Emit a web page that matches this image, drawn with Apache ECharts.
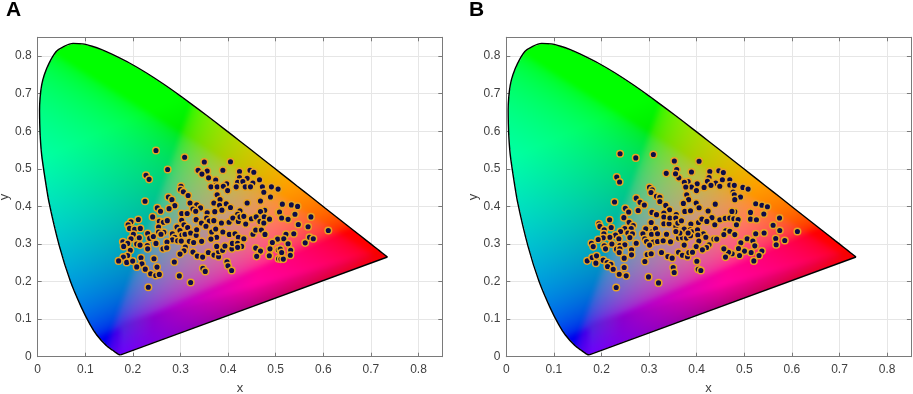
<!DOCTYPE html>
<html><head><meta charset="utf-8">
<style>html,body{margin:0;padding:0;background:#fff}#c{width:913px;height:394px}</style>
<script src="https://cdn.jsdelivr.net/npm/echarts@6/dist/echarts.min.js"></script>
</head><body><div id="c"></div>
<script>
const panelLabels = ['A', 'B'];
const axisNames = ['x', 'y'];
const tickMax = 0.85, tickStep = 0.1;
const spectralLocus = [[.1741,.0050],[.1733,.0048],[.1714,.0051],[.1689,.0069],[.1644,.0109],[.1566,.0177],[.1440,.0297],[.1241,.0578],[.1096,.0868],[.0913,.1327],[.0687,.2007],[.0454,.2950],[.0235,.4127],[.0140,.4860],[.0082,.5384],[.0055,.5820],[.0043,.6200],[.0039,.6548],[.0050,.6880],[.0082,.7220],[.0139,.7502],[.0235,.7800],[.0389,.8120],[.0555,.8260],[.0743,.8338],[.0945,.8325],[.1142,.8262],[.1345,.8172],[.1547,.8059],[.1929,.7816],[.2296,.7543],[.2658,.7243],[.3016,.6923],[.3373,.6589],[.3731,.6245],[.4087,.5896],[.4441,.5547],[.4788,.5202],[.5125,.4866],[.5448,.4544],[.5752,.4242],[.6029,.3965],[.6270,.3725],[.6658,.3340],[.6915,.3083],[.7079,.2920],[.7190,.2809],[.7260,.2740],[.7300,.2700],[.7347,.2653]];
const purpleLine = [[.7347,.2653],[.1741,.0050]];
const pointsA = [[.2485,.5487],[.3087,.5309],[.35,.518],[.405,.519],[.2275,.483],[.234,.472],[.273,.498],[.337,.496],[.356,.494],[.345,.486],[.389,.496],[.424,.493],[.446,.496],[.454,.491],[.359,.476],[.374,.47],[.424,.477],[.44,.475],[.42,.464],[.431,.466],[.452,.462],[.466,.471],[.417,.452],[.436,.452],[.447,.452],[.472,.452],[.491,.452],[.505,.446],[.374,.456],[.364,.452],[.377,.452],[.397,.46],[.39,.4535],[.399,.442],[.301,.4535],[.3,.445],[.306,.439],[.316,.429],[.377,.431],[.475,.4375],[.489,.425],[.2255,.4135],[.2745,.425],[.282,.418],[.32,.409],[.383,.418],[.37,.409],[.396,.407],[.382,.403],[.44,.409],[.468,.4145],[.288,.402],[.334,.404],[.342,.396],[.2513,.396],[.258,.387],[.276,.394],[.326,.393],[.372,.386],[.387,.39],[.405,.397],[.332,.387],[.3025,.381],[.314,.381],[.356,.383],[.425,.388],[.42,.379],[.477,.3895],[.468,.386],[.506,.384],[.2415,.372],[.2114,.365],[.196,.359],[.2555,.36],[.264,.358],[.2723,.362],[.3025,.363],[.333,.3647],[.344,.356],[.355,.369],[.3605,.361],[.37,.362],[.386,.356],[.402,.358],[.41,.369],[.4215,.36],[.425,.372],[.433,.3735],[.437,.353],[.449,.367],[.459,.372],[.467,.36],[.476,.372],[.475,.356],[.487,.366],[.19,.351],[.193,.3415],[.2037,.339],[.2156,.3415],[.201,.3255],[.231,.328],[.254,.345],[.265,.331],[.254,.332],[.259,.326],[.2135,.3166],[.196,.314],[.179,.306],[.189,.3015],[.1806,.2935],[.2352,.315],[.243,.32],[.283,.327],[.288,.318],[.283,.311],[.2926,.345],[.2989,.336],[.3073,.351],[.315,.344],[.303,.324],[.3095,.326],[.3213,.329],[.333,.323],[.334,.338],[.3535,.347],[.3655,.332],[.374,.34],[.389,.332],[.376,.318],[.364,.313],[.4025,.3255],[.4145,.327],[.4215,.318],[.433,.314],[.4522,.326],[.458,.337],[.47,.337],[.4775,.3255],[.492,.304],[.503,.3095],[.3444,.307],[.3185,.307],[.3276,.304],[.294,.3086],[.3017,.3077],[.2716,.305],[.2485,.3015],[.208,.3],[.215,.297],[.2303,.296],[.231,.287],[.2632,.287],[.271,.29],[.3101,.2917],[.3073,.282],[.299,.273],[.3262,.2784],[.3353,.2677],[.3465,.265],[.3585,.2775],[.3703,.2704],[.38,.266],[.38,.28],[.3885,.283],[.376,.2935],[.3934,.2944],[.408,.287],[.409,.3015],[.42,.302],[.4285,.2935],[.42,.291],[.458,.289],[.468,.281],[.46,.267],[.4872,.2686],[.4886,.287],[.5055,.2846],[.506,.2606],[.1946,.283],[.189,.2695],[.18,.265],[.17,.255],[.187,.251],[.1995,.2544],[.217,.263],[.219,.247],[.208,.239],[.226,.233],[.2443,.2606],[.2506,.2384],[.287,.252],[.2373,.2206],[.248,.216],[.2555,.219],[.2975,.215],[.2324,.185],[.3213,.1975],[.347,.235],[.352,.227],[.3976,.2526],[.3997,.242],[.4074,.2295],[.514,.406],[.533,.404],[.546,.4],[.508,.385],[.5405,.379],[.5125,.369],[.526,.3655],[.574,.372],[.5475,.352],[.568,.346],[.6105,.336],[.5216,.326],[.538,.327],[.504,.313],[.517,.314],[.493,.304],[.526,.3006],[.562,.303],[.571,.318],[.579,.314],[.488,.287],[.5097,.2864],[.5314,.283],[.5307,.27],[.5125,.27],[.511,.2597],[.516,.2597],[.4866,.2686],[.5125,.2775]];
const pointsB = [[.239,.54],[.272,.529],[.309,.538],[.353,.521],[.405,.52],[.232,.478],[.238,.465],[.336,.488],[.358,.498],[.3625,.476],[.389,.4915],[.4275,.493],[.4465,.495],[.456,.49],[.382,.466],[.374,.464],[.3555,.487],[.426,.477],[.4225,.467],[.44,.462],[.454,.471],[.4695,.471],[.401,.46],[.389,.4515],[.377,.4515],[.3995,.442],[.4155,.4505],[.43,.456],[.4485,.4535],[.4695,.457],[.479,.456],[.497,.4505],[.508,.446],[.4765,.438],[.479,.431],[.301,.4505],[.3065,.444],[.304,.437],[.3155,.427],[.3225,.424],[.379,.431],[.383,.418],[.372,.408],[.399,.409],[.405,.3965],[.492,.425],[.48,.418],[.439,.406],[.524,.407],[.537,.403],[.5486,.399],[.513,.384],[.541,.3796],[.273,.422],[.281,.4107],[.29,.4036],[.2274,.4116],[.25,.395],[.257,.385],[.277,.389],[.3226,.413],[.335,.4027],[.343,.391],[.331,.382],[.306,.384],[.3156,.378],[.357,.378],[.375,.3867],[.387,.3884],[.424,.3876],[.432,.37],[.48,.386],[.474,.3867],[.247,.37],[.217,.3644],[.258,.358],[.2666,.349],[.1945,.354],[.1966,.3467],[.2204,.344],[.2057,.338],[.205,.327],[.249,.341],[.24,.333],[.2624,.341],[.2554,.329],[.265,.327],[.2596,.317],[.2295,.3235],[.2176,.318],[.2036,.3164],[.193,.312],[.2365,.3138],[.179,.302],[.1826,.293],[.2057,.295],[.2085,.287],[.2218,.3],[.2386,.296],[.249,.298],[.273,.302],[.3044,.3573],[.293,.3404],[.3065,.3333],[.3135,.3413],[.287,.327],[.291,.3138],[.2946,.3067],[.305,.326],[.3177,.327],[.3086,.305],[.3177,.3067],[.301,.297],[.3296,.3084],[.3366,.326],[.331,.3716],[.331,.354],[.342,.354],[.3436,.369],[.356,.369],[.3562,.3467],[.3604,.3556],[.368,.3618],[.3877,.353],[.3863,.338],[.3737,.3396],[.39,.3324],[.4017,.338],[.4038,.3573],[.411,.3662],[.4213,.36],[.438,.351],[.4486,.3644],[.46,.368],[.4696,.369],[.478,.367],[.487,.3653],[.4835,.351],[.461,.335],[.457,.325],[.4696,.334],[.48,.325],[.513,.366],[.5255,.3644],[.5605,.35],[.574,.369],[.5745,.336],[.6116,.3333],[.524,.327],[.5416,.329],[.566,.3147],[.585,.3093],[.567,.2978],[.4927,.303],[.506,.3138],[.518,.3076],[.522,.295],[.537,.281],[.531,.2693],[.5143,.2773],[.5003,.281],[.52,.255],[.4878,.288],[.49,.2693],[.4745,.2738],[.4668,.278],[.457,.287],[.4605,.265],[.436,.313],[.442,.313],[.414,.327],[.4192,.318],[.4024,.3236],[.4045,.3076],[.399,.2933],[.426,.298],[.4206,.2907],[.412,.2844],[.3737,.297],[.3618,.3156],[.37,.3164],[.3786,.3156],[.387,.3218],[.382,.329],[.3646,.329],[.3562,.3333],[.345,.3058],[.326,.2773],[.3394,.2667],[.3485,.2622],[.3618,.278],[.37,.27],[.3807,.2658],[.3835,.2773],[.3912,.278],[.4003,.2542],[.3506,.2373],[.3527,.224],[.4031,.2329],[.4087,.2293],[.296,.272],[.3044,.2738],[.2911,.2533],[.2631,.2844],[.2631,.2711],[.2316,.2862],[.2386,.2871],[.2477,.2622],[.2372,.2773],[.17,.2551],[.1805,.264],[.1896,.2684],[.1882,.2489],[.2036,.2569],[.212,.2507],[.2197,.2462],[.2127,.24],[.2246,.2329],[.2477,.2373],[.2372,.2196],[.2519,.2151],[.2309,.184],[.2988,.2124],[.3198,.1964]];

function inside(x, y) {
  let c = false;
  for (let i = 0, j = spectralLocus.length - 1; i < spectralLocus.length; j = i++) {
    const a = spectralLocus[i], b = spectralLocus[j];
    if ((a[1] > y) !== (b[1] > y) && x < (b[0] - a[0]) * (y - a[1]) / (b[1] - a[1]) + a[0]) c = !c;
  }
  return c;
}
function gam(v) {
  v = Math.max(0, Math.min(1, v));
  return 255 * (v <= 0.0031308 ? 12.92 * v : 1.055 * Math.pow(v, 1 / 2.4) - 0.055);
}
function phys(x, y) {
  const z = 1 - x - y;
  return [gam(3.2406 * x - 1.5372 * y - 0.4986 * z), gam(-0.9689 * x + 1.8758 * y + 0.0415 * z), gam(0.0557 * x - 0.2040 * y + 1.0570 * z)];
}
// The purple wedge of the reference is a display-space ramp from its lower edge up to a faint band.
const edgeBlue = [110, 0, 255], edgeRed = [255, 0, 0];
function colour(x, y) {
  const yEdge = .005 + (x - .1741) * (.2603 / .5606);
  const yBand = .085 + (x - .17) * (.19 / .53);
  if (x < .1741 || y >= yBand) return phys(x, y);
  const top = phys(x, yBand), t = Math.min(1, (x - .1741) / .5606), f = Math.max(0, (y - yEdge) / Math.max(1e-3, yBand - yEdge));
  return [0, 1, 2].map(c => {
    const e = edgeBlue[c] + (edgeRed[c] - edgeBlue[c]) * t;
    return e + (top[c] * .95 - e) * f;
  });
}
function blurPass(buf, w, h, r, dx, dy) {
  const out = new Float32Array(buf.length);
  for (let j = 0; j < h; j++) for (let i = 0; i < w; i++) {
    let s = [0, 0, 0], n = 0;
    for (let t = -r; t <= r; t++) {
      const a = i + dx * t, b = j + dy * t;
      if (a < 0 || b < 0 || a >= w || b >= h) continue;
      const q = (a + b * w) * 3;
      s[0] += buf[q]; s[1] += buf[q + 1]; s[2] += buf[q + 2]; n++;
    }
    const k = (i + j * w) * 3;
    out[k] = s[0] / n; out[k + 1] = s[1] / n; out[k + 2] = s[2] / n;
  }
  return out;
}
function gamutCanvas(w, h) {
  const cv = document.createElement('canvas');
  cv.width = w; cv.height = h;
  const ctx = cv.getContext('2d'), im = ctx.createImageData(w, h);
  let buf = new Float32Array(w * h * 3);
  for (let j = 0; j < h; j++) for (let i = 0; i < w; i++) {
    const x = (i + .5) / w * tickMax, y = (1 - (j + .5) / h) * tickMax, k = (i + j * w) * 3, c = colour(x, y);
    buf[k] = c[0]; buf[k + 1] = c[1]; buf[k + 2] = c[2];
  }
  buf = blurPass(blurPass(buf, w, h, 3, 1, 0), w, h, 3, 0, 1);
  for (let j = 0; j < h; j++) for (let i = 0; i < w; i++) {
    const x = (i + .5) / w * tickMax, y = (1 - (j + .5) / h) * tickMax;
    if (!inside(x, y)) continue;
    const k = (i + j * w) * 4, q = (i + j * w) * 3;
    im.data[k] = buf[q]; im.data[k + 1] = buf[q + 1]; im.data[k + 2] = buf[q + 2]; im.data[k + 3] = 255;
  }
  ctx.putImageData(im, 0, 0);
  return cv;
}
const gamut = gamutCanvas(405, 320);
const GREY = '#7a7a7a', TXT = '#404040', FONT = '"Liberation Sans", Arial, sans-serif';
const lefts = [37.7, 506.3];
const fmt = v => v === 0 ? '0' : (+v).toFixed(1);
function axis(pos, idx, isMain, name) {
  return {
    type: 'value', gridIndex: idx, position: pos, min: 0, max: tickMax, interval: tickStep,
    name: isMain ? name : '', nameLocation: 'middle', nameGap: pos === 'bottom' ? 25 : 26,
    nameTextStyle: { color: TXT, fontFamily: FONT, fontSize: 13 },
    axisLine: { show: true, onZero: false, lineStyle: { color: GREY, width: 1 } },
    axisTick: { show: true, inside: true, length: 4, lineStyle: { color: GREY, width: 1 } },
    axisLabel: { show: isMain, color: TXT, fontFamily: FONT, fontSize: 12, margin: pos === 'bottom' ? 7 : 6, formatter: fmt, showMaxLabel: false },
    splitLine: { show: isMain, lineStyle: { color: '#e6e6e6', width: 1 } }
  };
}
const grids = [], xAxes = [], yAxes = [], series = [], titles = [];
[pointsA, pointsB].forEach((pts, n) => {
  grids.push({ left: lefts[n], top: 37.3, width: 404.6, height: 319.4, outerBoundsMode: 'none' });
  xAxes.push(axis('bottom', n, true, axisNames[0]), axis('top', n, false));
  yAxes.push(axis('left', n, true, axisNames[1]), axis('right', n, false));
  const ax = { xAxisIndex: n * 2, yAxisIndex: n * 2 };
  series.push({
    type: 'custom', ...ax, z: 1, silent: true, clip: false, data: [[0, tickMax]],
    renderItem: (p, api) => {
      const a = api.coord([0, tickMax]), b = api.coord([tickMax, 0]);
      return { type: 'image', style: { image: gamut, x: a[0], y: a[1], width: b[0] - a[0], height: b[1] - a[1] } };
    }
  });
  const ln = { type: 'line', ...ax, z: 2, symbol: 'none', silent: true, lineStyle: { color: '#000', width: 1.4 } };
  series.push({ ...ln, data: spectralLocus, smooth: 0.2 }, { ...ln, data: purpleLine });
  series.push({
    type: 'scatter', ...ax, z: 3, data: pts, symbolSize: 6.6, silent: true,
    itemStyle: { color: '#0d0d48', borderColor: '#e8a424', borderWidth: 1.5, opacity: 1 }
  });
  titles.push({ text: panelLabels[n], left: n ? 469 : 6, top: 0, padding: 0, textStyle: { color: '#000', fontFamily: FONT, fontWeight: 'bold', fontSize: 21 } });
});
echarts.init(document.getElementById('c'), null, { renderer: 'canvas' }).setOption({
  animation: false, backgroundColor: '#fff', title: titles, grid: grids, xAxis: xAxes, yAxis: yAxes, series
});
</script></body></html>
